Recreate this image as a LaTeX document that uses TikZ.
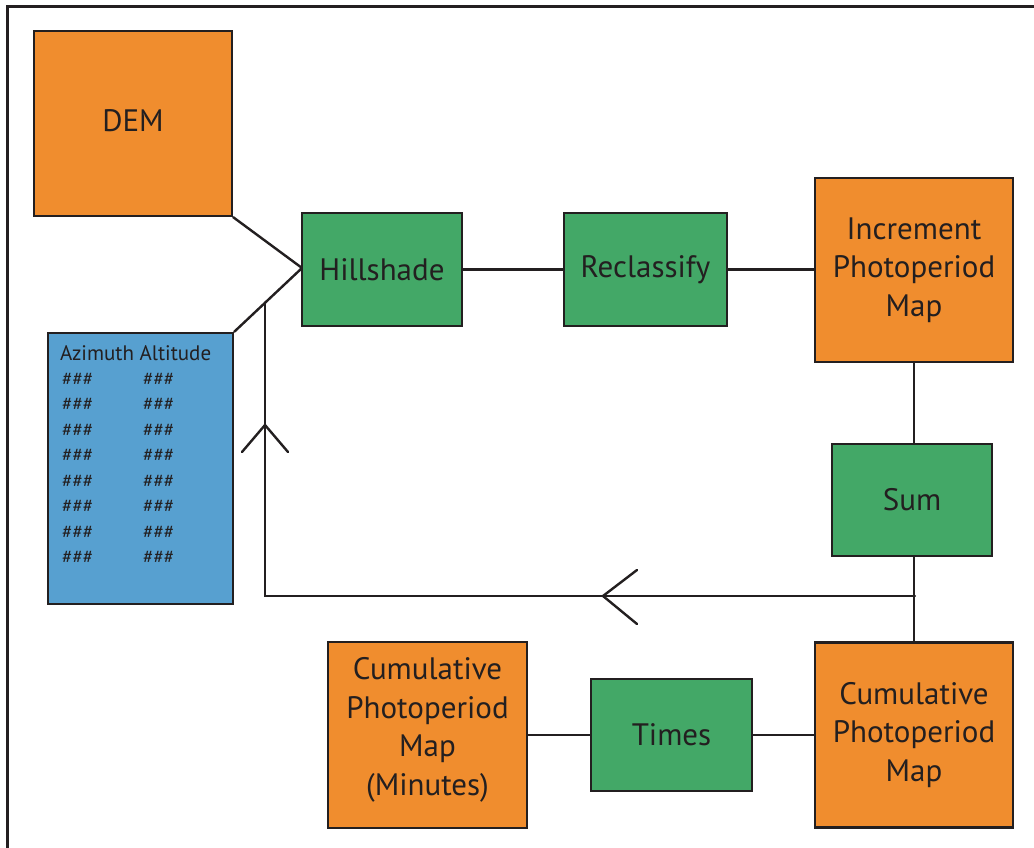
\documentclass[tikz,border=0pt]{standalone}
\usepackage{fontspec}
\setmainfont{PT Sans}
\usetikzlibrary{calc}
\definecolor{boxorange}{HTML}{F08D2E}
\definecolor{boxgreen}{HTML}{43A867}
\definecolor{boxblue}{HTML}{57A0D0}
\definecolor{ink}{HTML}{231F20}
\begin{document}
\begin{tikzpicture}[x=1pt,y=-1pt,
  line width=2.4pt, line cap=round,
  box/.style={draw=ink, line width=2.4pt, inner sep=0pt, align=center,
    text=ink, font=\fontsize{31}{38.5}\selectfont},
  obox/.style={box, fill=boxorange},
  gbox/.style={box, fill=boxgreen},
  bbox/.style={box, fill=boxblue},
  conn/.style={draw=ink, line width=2.4pt},
  small/.style={text=ink, inner sep=0pt, font=\fontsize{21}{24}\selectfont},
  hash/.style={text=ink, inner sep=0pt, anchor=west, font=\fontsize{19}{20}\selectfont}
]
\useasboundingbox (0,0) rectangle (1034,848);
\fill[white] (0,0) rectangle (1034,848);
% frame (top and left edges)
\draw[ink, line width=3pt, line cap=butt] (1034,7) -- (7,7) -- (7,848);

% nodes
\node[obox, minimum width=198pt, minimum height=185pt] (dem) at (133,123.5) {\raisebox{3pt}[\height][\depth]{DEM}};
\node[gbox, minimum width=160pt, minimum height=113pt] (hill) at (382,269.5) {Hillshade};
\node[gbox, minimum width=163pt, minimum height=113pt] (recl) at (645.5,269.5) {Reclassify};
\node[obox, minimum width=198pt, minimum height=184pt] (incr) at (914,270) {Increment\\Photoperiod\\Map};
\node[gbox, minimum width=160pt, minimum height=112pt] (sum) at (912,500) {Sum};
\node[obox, minimum width=198pt, minimum height=185pt] (cum) at (914,735) {Cumulative\\Photoperiod\\Map};
\node[gbox, minimum width=161pt, minimum height=112pt] (times) at (671.5,735) {Times};
\node[obox, minimum width=199pt, minimum height=186pt] (cummin) at (427.5,735) {\raisebox{5pt}[\height][\depth]{\begin{tabular}{@{}c@{}}Cumulative\\Photoperiod\\Map\\(Minutes)\end{tabular}}};
\node[bbox, minimum width=185pt, minimum height=271pt] (tab) at (140.5,468.5) {};

% table text
\node[small, anchor=west] (hdr) at (59,353) {Azimuth Altitude};
\foreach \i in {0,...,7} {
  \node[hash] (az\i) at (61,{379+25.5*\i}) {\#\#\#};
  \node[hash] (al\i) at (142,{379+25.5*\i}) {\#\#\#};
}

% junction points
\coordinate (jn) at (302,268);
\coordinate (jfb) at (265,302.5);
\coordinate (corner) at (265,596);
\coordinate (fb) at (915,596);
\coordinate (arrU) at (265,425);
\coordinate (arrL) at (603,596);

% connectors
\draw[conn] (dem.south east) -- (jn);
\draw[conn] (tab.north east) -- (jn) -- (hill.west);
\draw[conn] (hill.east) -- (recl.west);
\draw[conn] (recl.east) -- (incr.west |- recl.east);
\draw[conn] (incr.south) -- (sum.north -| incr.south);
\draw[conn] (sum.south -| incr.south) -- (cum.north);
\draw[conn] (cum.west) -- (times.east);
\draw[conn] (times.west) -- (cummin.east);
\draw[conn] (fb) -- (corner) -- (jfb);

% open arrowheads mid-line
\draw[conn] ($(arrU)+(-23,27)$) -- (arrU) -- ($(arrU)+(23,27)$);
\draw[conn] ($(arrL)+(34,-26)$) -- (arrL) -- ($(arrL)+(34,28)$);
\end{tikzpicture}
\end{document}
